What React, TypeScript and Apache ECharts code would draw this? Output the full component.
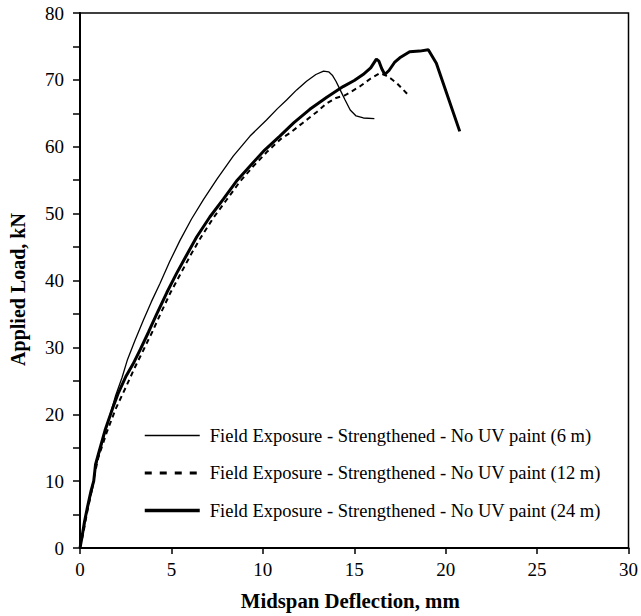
import React, { useEffect, useRef } from "react";
import * as echarts from "echarts";

const seriesNames = [
  "Field Exposure - Strengthened - No UV paint (6 m)",
  "Field Exposure - Strengthened - No UV paint (12 m)",
  "Field Exposure - Strengthened - No UV paint (24 m)",
];

const defl6 = [0, 0.15, 0.35, 0.55, 0.7, 0.85, 1.0, 1.3, 1.6, 1.95, 2.3, 2.6, 3.0, 3.47, 3.9, 4.38, 4.9, 5.47, 6.1, 6.75, 7.5, 8.38, 9.3, 10.2, 10.8, 11.3, 11.85, 12.39, 12.9, 13.32, 13.6, 13.8, 14.0, 14.23, 14.5, 14.78, 15.1, 15.5, 16.1];
const load6 = [0, 2, 5, 7.5, 9, 12, 13.5, 16.5, 19.5, 22.8, 25.5, 28.2, 31.0, 34.1, 36.8, 39.6, 42.8, 46.0, 49.2, 52.1, 55.2, 58.6, 61.6, 64.0, 65.7, 67.0, 68.5, 69.8, 70.8, 71.3, 71.2, 70.7, 69.8, 68.5, 67.0, 65.5, 64.6, 64.3, 64.2];

const defl12 = [0, 0.2, 0.4, 0.6, 0.8, 1.0, 1.45, 1.95, 2.5, 3.0, 3.45, 3.95, 4.4, 4.95, 5.5, 6.05, 6.6, 7.3, 8.0, 8.75, 9.45, 10.25, 11.0, 11.5, 12.2, 12.95, 13.5, 14.0, 14.5, 15.3, 15.9, 16.4, 16.7, 17.0, 17.33, 17.97];
const load12 = [0, 2.5, 5.5, 8, 11, 13.5, 17.2, 20.8, 24, 27, 29.5, 32.3, 35, 38.2, 41, 43.8, 46.4, 49.4, 52, 54.8, 57, 59.3, 61.2, 62.1, 63.6, 65.2, 66.5, 67.3, 67.7, 69.0, 70.2, 71.0, 70.7, 70.2, 69.5, 67.7];

const defl24 = [0, 0.1, 0.25, 0.4, 0.6, 0.75, 0.85, 1.0, 1.37, 1.8, 2.1, 2.5, 2.9, 3.3, 3.75, 4.2, 4.75, 5.29, 5.85, 6.38, 7.1, 7.85, 8.6, 9.29, 10.1, 10.93, 11.7, 12.57, 13.5, 14.39, 15.0, 15.48, 15.9, 16.21, 16.35, 16.5, 16.67, 16.9, 17.2, 17.49, 18.03, 18.58, 19.05, 19.49, 20.77];
const load24 = [0, 1.5, 4, 6, 8.5, 10, 12.5, 14, 17.6, 21, 23.2, 25.6, 27.5, 29.7, 32.3, 35.0, 38.2, 41.1, 43.9, 46.5, 49.5, 52.2, 55.0, 57.1, 59.5, 61.6, 63.6, 65.6, 67.4, 69.0, 69.9, 70.8, 71.8, 73.1, 72.8, 71.7, 70.8, 71.4, 72.6, 73.3, 74.2, 74.3, 74.5, 72.5, 62.3];

const pairs = (xs: number[], ys: number[]) => xs.map((x, i) => [x, ys[i]]);

const FONT = "Liberation Serif";

export default function App() {
  const ref = useRef<HTMLDivElement>(null);
  useEffect(() => {
    if (!ref.current) return;
    const chart = echarts.init(ref.current, undefined, { renderer: "svg" });
    const hidden = { opacity: 0, borderWidth: 0 };
    chart.setOption({
      animation: false,
      backgroundColor: "#fff",
      grid: {
        left: 80,
        right: 12,
        top: 13,
        bottom: 67.5,
        show: true,
        borderColor: "#000",
        borderWidth: 1.5,
        backgroundColor: "transparent",
      },
      legend: {
        orient: "vertical",
        left: 138,
        top: 421,
        itemWidth: 55,
        itemHeight: 18,
        itemGap: 18.5,
        textStyle: {
          fontFamily: FONT,
          fontSize: 18.5,
          color: "#000",
          lineHeight: 18,
          padding: [0, 0, 0, 5],
        },
        data: [
          { name: seriesNames[0], itemStyle: hidden, lineStyle: { width: 1.5, color: "#000" } },
          { name: seriesNames[1], itemStyle: hidden, lineStyle: { width: 3, type: [7, 8], color: "#000" } },
          { name: seriesNames[2], itemStyle: hidden, lineStyle: { width: 3.5, color: "#000" } },
        ],
      },
      xAxis: {
        type: "value",
        min: 0,
        max: 30,
        interval: 5,
        name: "Midspan Deflection, mm",
        nameLocation: "middle",
        nameGap: 42,
        nameTextStyle: { fontFamily: FONT, fontSize: 20.8, fontWeight: "bold", color: "#000", padding: [0, 8, 0, 0] },
        axisLine: { show: true, lineStyle: { color: "#000", width: 2 } },
        axisTick: { show: true, inside: false, length: 6, lineStyle: { color: "#000", width: 1.5 } },
        axisLabel: { fontFamily: FONT, fontSize: 19, color: "#000", margin: 12 },
        splitLine: { show: false },
      },
      yAxis: {
        type: "value",
        min: 0,
        max: 80,
        interval: 10,
        name: "Applied Load, kN",
        nameLocation: "middle",
        nameGap: 52,
        nameTextStyle: { fontFamily: FONT, fontSize: 20, fontWeight: "bold", color: "#000", padding: [0, 18, 0, 0] },
        axisLine: { show: true, lineStyle: { color: "#000", width: 2 } },
        axisTick: { show: true, inside: false, length: 7, lineStyle: { color: "#000", width: 1.5 } },
        minorTick: { show: true, splitNumber: 2, length: 7, lineStyle: { color: "#000", width: 1.5 } },
        axisLabel: { fontFamily: FONT, fontSize: 19, color: "#000", margin: 16 },
        splitLine: { show: false },
      },
      series: [
        {
          name: seriesNames[0],
          type: "line",
          data: pairs(defl6, load6),
          showSymbol: false,
          symbol: "none",
          lineStyle: { color: "#000", width: 1.3 },
          itemStyle: { color: "#000" },
        },
        {
          name: seriesNames[1],
          type: "line",
          data: pairs(defl12, load12),
          showSymbol: false,
          symbol: "none",
          lineStyle: { color: "#000", width: 2, type: [5, 4] },
          itemStyle: { color: "#000" },
        },
        {
          name: seriesNames[2],
          type: "line",
          data: pairs(defl24, load24),
          showSymbol: false,
          symbol: "none",
          lineStyle: { color: "#000", width: 3 },
          itemStyle: { color: "#000" },
        },
      ],
    });
    return () => chart.dispose();
  }, []);
  return <div ref={ref} style={{ position: "fixed", left: 0, top: 0, width: 641, height: 616 }} />;
}
